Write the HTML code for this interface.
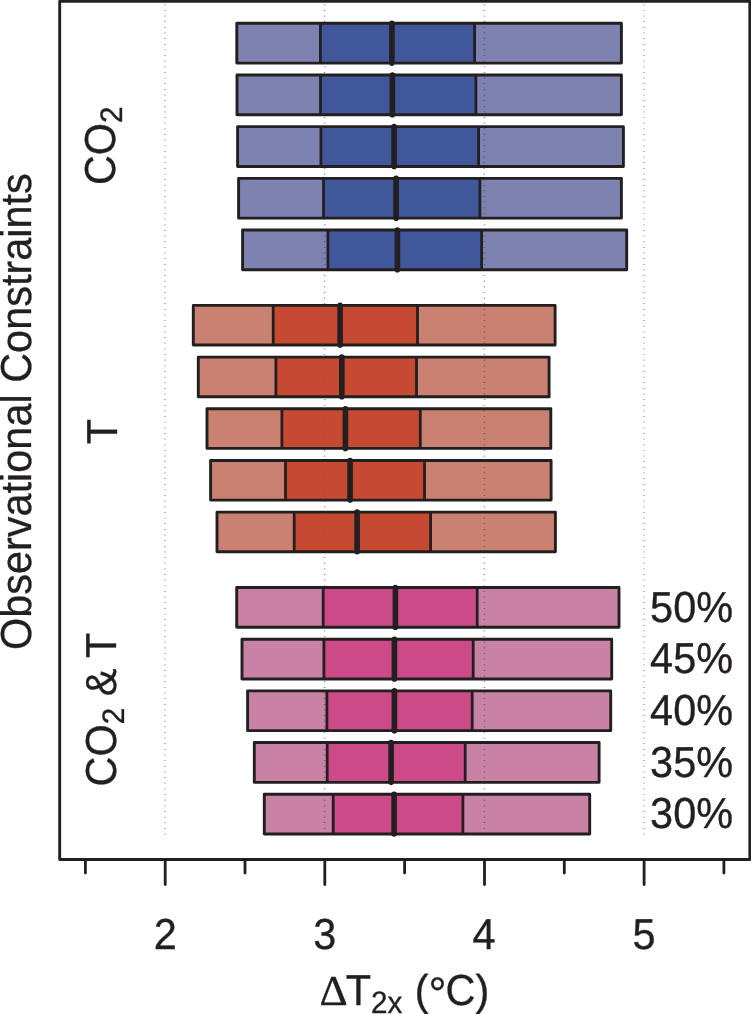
<!DOCTYPE html>
<html lang="en"><head><meta charset="utf-8"><title>Observational Constraints</title>
<style>html,body{margin:0;padding:0;background:#fff}body{width:751px;height:1014px;overflow:hidden}svg{display:block}text{font-family:"Liberation Sans",sans-serif;fill:#231f20}.sym{font-family:"Liberation Serif",serif}</style>
</head><body>
<svg width="751" height="1014" viewBox="0 0 751 1014" text-rendering="geometricPrecision">
<rect x="0" y="0" width="751" height="1014" fill="#ffffff"/>
<g>
<rect x="236.8" y="23.30" width="384.6" height="39.80" fill="#7e82b0"/>
<rect x="237.0" y="74.98" width="384.4" height="39.80" fill="#7e82b0"/>
<rect x="237.6" y="126.66" width="385.8" height="39.80" fill="#7e82b0"/>
<rect x="238.6" y="178.34" width="382.8" height="39.80" fill="#7e82b0"/>
<rect x="242.6" y="230.02" width="384.1" height="39.80" fill="#7e82b0"/>
</g>
<g>
<rect x="193.3" y="305.40" width="361.8" height="39.65" fill="#c98171"/>
<rect x="198.3" y="357.08" width="350.8" height="39.65" fill="#c98171"/>
<rect x="207.0" y="408.76" width="343.8" height="39.65" fill="#c98171"/>
<rect x="210.6" y="460.44" width="340.5" height="39.65" fill="#c98171"/>
<rect x="217.0" y="512.12" width="338.4" height="39.65" fill="#c98171"/>
</g>
<g>
<rect x="236.7" y="587.50" width="382.3" height="39.80" fill="#c882a6"/>
<rect x="242.0" y="639.18" width="369.7" height="39.80" fill="#c882a6"/>
<rect x="247.6" y="690.86" width="363.1" height="39.80" fill="#c882a6"/>
<rect x="254.3" y="742.54" width="344.8" height="39.80" fill="#c882a6"/>
<rect x="264.3" y="794.22" width="325.4" height="39.80" fill="#c882a6"/>
</g>
<g stroke="#2e2e38" stroke-width="1.5" stroke-dasharray="0.75 4.891" fill="none" opacity="0.6">
<line x1="165.0" y1="4.4" x2="165.0" y2="834.6"/>
<line x1="324.6" y1="4.4" x2="324.6" y2="834.6"/>
<line x1="484.4" y1="4.4" x2="484.4" y2="834.6"/>
<line x1="644.2" y1="4.4" x2="644.2" y2="834.6"/>
</g>
<g>
<rect x="320.4" y="23.30" width="154.2" height="39.80" fill="#405799"/>
<rect x="320.5" y="74.98" width="155.4" height="39.80" fill="#405799"/>
<rect x="320.9" y="126.66" width="157.7" height="39.80" fill="#405799"/>
<rect x="323.5" y="178.34" width="156.4" height="39.80" fill="#405799"/>
<rect x="327.9" y="230.02" width="153.7" height="39.80" fill="#405799"/>
</g>
<g>
<rect x="273.2" y="305.40" width="144.3" height="39.65" fill="#c54a31"/>
<rect x="275.9" y="357.08" width="140.6" height="39.65" fill="#c54a31"/>
<rect x="281.9" y="408.76" width="138.4" height="39.65" fill="#c54a31"/>
<rect x="285.5" y="460.44" width="139.0" height="39.65" fill="#c54a31"/>
<rect x="294.2" y="512.12" width="136.4" height="39.65" fill="#c54a31"/>
</g>
<g>
<rect x="323.2" y="587.50" width="154.0" height="39.80" fill="#cd4a88"/>
<rect x="323.9" y="639.18" width="149.3" height="39.80" fill="#cd4a88"/>
<rect x="326.9" y="690.86" width="145.3" height="39.80" fill="#cd4a88"/>
<rect x="327.2" y="742.54" width="138.0" height="39.80" fill="#cd4a88"/>
<rect x="333.2" y="794.22" width="129.7" height="39.80" fill="#cd4a88"/>
</g>
<g stroke="#2e2e38" stroke-width="1.5" stroke-dasharray="0.75 4.891" fill="none" opacity="0.13">
<line x1="324.6" y1="4.4" x2="324.6" y2="834.6"/>
<line x1="484.4" y1="4.4" x2="484.4" y2="834.6"/>
</g>
<g stroke="#231f20" fill="none" stroke-linejoin="round">
<line x1="320.4" y1="23.30" x2="320.4" y2="63.10" stroke-width="2.8"/>
<line x1="474.6" y1="23.30" x2="474.6" y2="63.10" stroke-width="2.8"/>
<rect x="236.8" y="23.30" width="384.6" height="39.80" stroke-width="2.9"/>
<line x1="391.9" y1="23.30" x2="391.9" y2="63.10" stroke-width="5.6" stroke-linecap="round"/>
<line x1="320.5" y1="74.98" x2="320.5" y2="114.78" stroke-width="2.8"/>
<line x1="475.9" y1="74.98" x2="475.9" y2="114.78" stroke-width="2.8"/>
<rect x="237.0" y="74.98" width="384.4" height="39.80" stroke-width="2.9"/>
<line x1="392.4" y1="74.98" x2="392.4" y2="114.78" stroke-width="5.6" stroke-linecap="round"/>
<line x1="320.9" y1="126.66" x2="320.9" y2="166.46" stroke-width="2.8"/>
<line x1="478.6" y1="126.66" x2="478.6" y2="166.46" stroke-width="2.8"/>
<rect x="237.6" y="126.66" width="385.8" height="39.80" stroke-width="2.9"/>
<line x1="394.1" y1="126.66" x2="394.1" y2="166.46" stroke-width="5.6" stroke-linecap="round"/>
<line x1="323.5" y1="178.34" x2="323.5" y2="218.14" stroke-width="2.8"/>
<line x1="479.9" y1="178.34" x2="479.9" y2="218.14" stroke-width="2.8"/>
<rect x="238.6" y="178.34" width="382.8" height="39.80" stroke-width="2.9"/>
<line x1="396.1" y1="178.34" x2="396.1" y2="218.14" stroke-width="5.6" stroke-linecap="round"/>
<line x1="327.9" y1="230.02" x2="327.9" y2="269.82" stroke-width="2.8"/>
<line x1="481.6" y1="230.02" x2="481.6" y2="269.82" stroke-width="2.8"/>
<rect x="242.6" y="230.02" width="384.1" height="39.80" stroke-width="2.9"/>
<line x1="397.4" y1="230.02" x2="397.4" y2="269.82" stroke-width="5.6" stroke-linecap="round"/>
</g>
<g stroke="#231f20" fill="none" stroke-linejoin="round">
<line x1="273.2" y1="305.40" x2="273.2" y2="345.05" stroke-width="2.8"/>
<line x1="417.5" y1="305.40" x2="417.5" y2="345.05" stroke-width="2.8"/>
<rect x="193.3" y="305.40" width="361.8" height="39.65" stroke-width="2.9"/>
<line x1="340.1" y1="305.40" x2="340.1" y2="345.05" stroke-width="5.6" stroke-linecap="round"/>
<line x1="275.9" y1="357.08" x2="275.9" y2="396.73" stroke-width="2.8"/>
<line x1="416.5" y1="357.08" x2="416.5" y2="396.73" stroke-width="2.8"/>
<rect x="198.3" y="357.08" width="350.8" height="39.65" stroke-width="2.9"/>
<line x1="341.8" y1="357.08" x2="341.8" y2="396.73" stroke-width="5.6" stroke-linecap="round"/>
<line x1="281.9" y1="408.76" x2="281.9" y2="448.41" stroke-width="2.8"/>
<line x1="420.3" y1="408.76" x2="420.3" y2="448.41" stroke-width="2.8"/>
<rect x="207.0" y="408.76" width="343.8" height="39.65" stroke-width="2.9"/>
<line x1="345.4" y1="408.76" x2="345.4" y2="448.41" stroke-width="5.6" stroke-linecap="round"/>
<line x1="285.5" y1="460.44" x2="285.5" y2="500.09" stroke-width="2.8"/>
<line x1="424.5" y1="460.44" x2="424.5" y2="500.09" stroke-width="2.8"/>
<rect x="210.6" y="460.44" width="340.5" height="39.65" stroke-width="2.9"/>
<line x1="350.1" y1="460.44" x2="350.1" y2="500.09" stroke-width="5.6" stroke-linecap="round"/>
<line x1="294.2" y1="512.12" x2="294.2" y2="551.77" stroke-width="2.8"/>
<line x1="430.6" y1="512.12" x2="430.6" y2="551.77" stroke-width="2.8"/>
<rect x="217.0" y="512.12" width="338.4" height="39.65" stroke-width="2.9"/>
<line x1="357.1" y1="512.12" x2="357.1" y2="551.77" stroke-width="5.6" stroke-linecap="round"/>
</g>
<g stroke="#231f20" fill="none" stroke-linejoin="round">
<line x1="323.2" y1="587.50" x2="323.2" y2="627.30" stroke-width="2.8"/>
<line x1="477.2" y1="587.50" x2="477.2" y2="627.30" stroke-width="2.8"/>
<rect x="236.7" y="587.50" width="382.3" height="39.80" stroke-width="2.9"/>
<line x1="395.4" y1="587.50" x2="395.4" y2="627.30" stroke-width="5.6" stroke-linecap="round"/>
<line x1="323.9" y1="639.18" x2="323.9" y2="678.98" stroke-width="2.8"/>
<line x1="473.2" y1="639.18" x2="473.2" y2="678.98" stroke-width="2.8"/>
<rect x="242.0" y="639.18" width="369.7" height="39.80" stroke-width="2.9"/>
<line x1="394.4" y1="639.18" x2="394.4" y2="678.98" stroke-width="5.6" stroke-linecap="round"/>
<line x1="326.9" y1="690.86" x2="326.9" y2="730.66" stroke-width="2.8"/>
<line x1="472.2" y1="690.86" x2="472.2" y2="730.66" stroke-width="2.8"/>
<rect x="247.6" y="690.86" width="363.1" height="39.80" stroke-width="2.9"/>
<line x1="394.4" y1="690.86" x2="394.4" y2="730.66" stroke-width="5.6" stroke-linecap="round"/>
<line x1="327.2" y1="742.54" x2="327.2" y2="782.34" stroke-width="2.8"/>
<line x1="465.2" y1="742.54" x2="465.2" y2="782.34" stroke-width="2.8"/>
<rect x="254.3" y="742.54" width="344.8" height="39.80" stroke-width="2.9"/>
<line x1="391.1" y1="742.54" x2="391.1" y2="782.34" stroke-width="5.6" stroke-linecap="round"/>
<line x1="333.2" y1="794.22" x2="333.2" y2="834.02" stroke-width="2.8"/>
<line x1="462.9" y1="794.22" x2="462.9" y2="834.02" stroke-width="2.8"/>
<rect x="264.3" y="794.22" width="325.4" height="39.80" stroke-width="2.9"/>
<line x1="394.1" y1="794.22" x2="394.1" y2="834.02" stroke-width="5.6" stroke-linecap="round"/>
</g>
<g stroke="#231f20" fill="none" stroke-width="2.9" stroke-linejoin="round">
<path d="M59.7 859.45 L59.7 1.4 L749.85 1.4 L749.85 859.45 Z"/>
</g>
<g stroke="#231f20" fill="none" stroke-width="2.8" stroke-linecap="round">
<line x1="165.2" y1="859.4" x2="165.2" y2="884.6"/>
<line x1="324.8" y1="859.4" x2="324.8" y2="884.6"/>
<line x1="484.5" y1="859.4" x2="484.5" y2="884.6"/>
<line x1="644.1" y1="859.4" x2="644.1" y2="884.6"/>
<line x1="85.4" y1="859.4" x2="85.4" y2="873.0"/>
<line x1="245.0" y1="859.4" x2="245.0" y2="873.0"/>
<line x1="404.6" y1="859.4" x2="404.6" y2="873.0"/>
<line x1="564.3" y1="859.4" x2="564.3" y2="873.0"/>
<line x1="723.9" y1="859.4" x2="723.9" y2="873.0"/>
</g>
<text transform="translate(165.2 949.2) scale(0.957 1)" font-size="43.3" stroke="#231f20" stroke-width="0.35" text-anchor="middle">2</text>
<text transform="translate(324.8 949.2) scale(0.957 1)" font-size="43.3" stroke="#231f20" stroke-width="0.35" text-anchor="middle">3</text>
<text transform="translate(484.0 949.2) scale(0.957 1)" font-size="43.3" stroke="#231f20" stroke-width="0.35" text-anchor="middle">4</text>
<text transform="translate(644.1 949.2) scale(0.957 1)" font-size="43.3" stroke="#231f20" stroke-width="0.35" text-anchor="middle">5</text>
<text transform="translate(650.1 621.8) scale(0.957 1)" font-size="43.3" stroke="#231f20" stroke-width="0.35">50%</text>
<text transform="translate(650.1 673.45) scale(0.957 1)" font-size="43.3" stroke="#231f20" stroke-width="0.35">45%</text>
<text transform="translate(650.1 725.1) scale(0.957 1)" font-size="43.3" stroke="#231f20" stroke-width="0.35">40%</text>
<text transform="translate(650.1 776.75) scale(0.957 1)" font-size="43.3" stroke="#231f20" stroke-width="0.35">35%</text>
<text transform="translate(650.1 828.4) scale(0.957 1)" font-size="43.3" stroke="#231f20" stroke-width="0.35">30%</text>
<text class="sym" transform="translate(319.4 1005.3) scale(1.035 1)" font-size="42.4" stroke="#231f20" stroke-width="0.3">Δ</text><text transform="translate(345.8 1005.3) scale(0.957 1)" font-size="43.3" stroke="#231f20" stroke-width="0.35">T<tspan font-size="31.0" dy="7.8">2x</tspan><tspan dy="-7.8" dx="0.7"> (</tspan><tspan font-size="47" dy="4.3">°</tspan><tspan dy="-4.3" dx="-1">C)</tspan></text>
<text transform="translate(31.3 650.0) rotate(-90) scale(0.957 1)" font-size="43.3" stroke="#231f20" stroke-width="0.35">Observational Constraints</text>
<text transform="translate(114.5 185.1) rotate(-90) scale(0.957 1)" font-size="43.3" stroke="#231f20" stroke-width="0.35">CO<tspan font-size="31.0" dy="7.8">2</tspan></text>
<text transform="translate(117.1 444.2) rotate(-90) scale(0.957 1)" font-size="43.3" stroke="#231f20" stroke-width="0.35">T</text>
<text transform="translate(116.0 786.5) rotate(-90) scale(0.957 1)" font-size="43.3" stroke="#231f20" stroke-width="0.35">CO<tspan font-size="31.0" dy="7.8">2</tspan><tspan dy="-7.8"> &amp; T</tspan></text>
</svg>
</body></html>
